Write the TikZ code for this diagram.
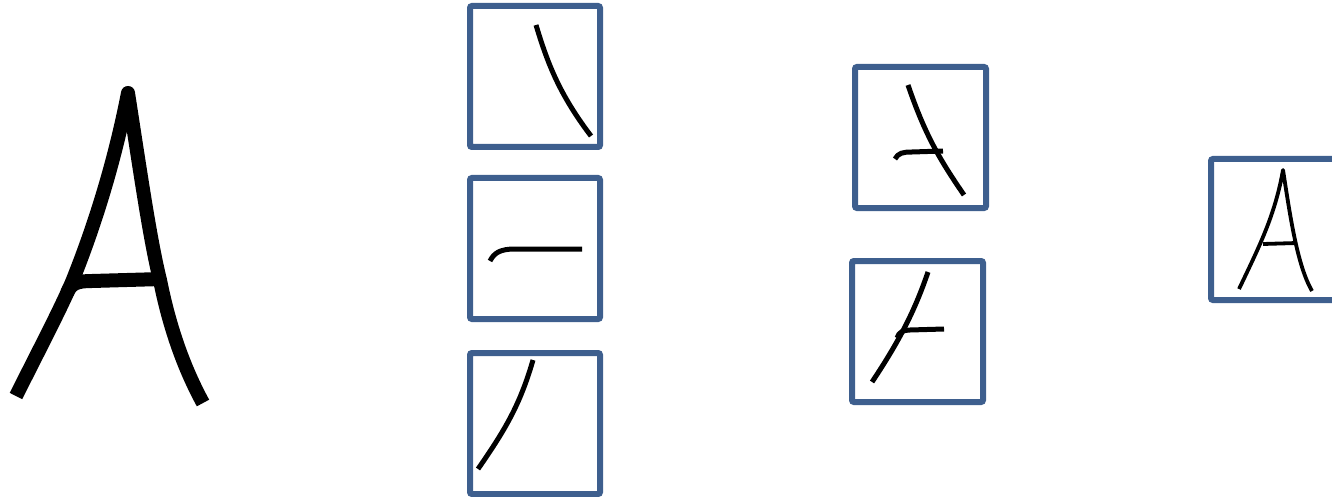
\documentclass[tikz,border=0pt]{standalone}
\begin{document}
\begin{tikzpicture}[x=1pt,y=-1pt,
  frame/.style={draw=boxblue,line width=6pt,rounded corners=2pt},
  bigstroke/.style={line width=14pt,line join=round,line cap=butt},
  ink/.style={line width=5pt,line cap=butt,line join=round},
  thinink/.style={line width=3.8pt,line cap=butt,line join=round}]
\definecolor{boxblue}{RGB}{62,95,142}
\useasboundingbox (0,0) rectangle (1332,497);
\clip (0,0) rectangle (1332,497);
% big A
\draw[bigstroke] (16,396) .. controls (40,348) and (60,310) .. (72,282)
  .. controls (95,225) and (115,160) .. (128,93)
  .. controls (140,170) and (150,240) .. (160,280)
  .. controls (170,330) and (185,370) .. (203,403);
\draw[bigstroke] (67,293) .. controls (71,283) and (78,281) .. (92,281) -- (162,279);
% column 1
\draw[frame] (470,6) rectangle (600,147);
\draw[ink] (536,25) .. controls (548,65) and (560,95) .. (591,136);
\draw[frame] (470,178) rectangle (600,319);
\draw[ink] (490,261) .. controls (494,253) and (500,249) .. (515,249) -- (582,249);
\draw[frame] (470,353) rectangle (600,494);
\draw[ink] (533,360) .. controls (520,405) and (505,430) .. (478,469);
% column 2
\draw[frame] (855,67) rectangle (986,208);
\draw[ink] (908,85) .. controls (925,135) and (940,160) .. (964,195);
\draw[ink] (895,159) .. controls (898,153) and (903,152) .. (912,152) -- (943,151);
\draw[frame] (852,261) rectangle (983,402);
\draw[ink] (928,272) .. controls (915,310) and (900,340) .. (872,382);
\draw[ink] (897,338) .. controls (899,332) and (903,330) .. (910,330) -- (944,329);
% column 3
\draw[frame] (1211,159) rectangle (1342,300);
\draw[thinink] (1239,289) .. controls (1260,245) and (1275,215) .. (1283,170)
  .. controls (1290,215) and (1297,265) .. (1312,291);
\draw[thinink] (1263,244) -- (1297,243);
\end{tikzpicture}
\end{document}
